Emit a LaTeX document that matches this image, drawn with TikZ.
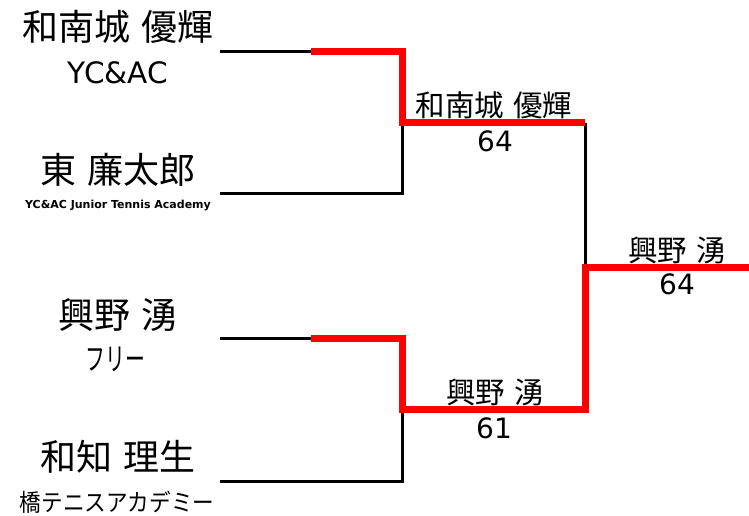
\documentclass[tikz,border=0pt]{standalone}
\usepackage{fontspec}
\newfontfamily\cjk[WordSpace=1.4]{Noto Sans CJK JP}
\newfontfamily\lat{DejaVu Sans}
\begin{document}
\begin{tikzpicture}[x=1pt,y=-1pt,
  blk/.style={line width=3pt,black,line join=miter},
  win/.style={line width=7pt,red,line join=miter},
  bigname/.style={inner sep=0pt,font=\cjk\fontsize{36}{40}\selectfont},
  midname/.style={inner sep=0pt,font=\cjk\fontsize{29.5}{32}\selectfont},
  club/.style={inner sep=0pt,font=\lat\fontsize{29.5}{32}\selectfont},
  clubjp/.style={inner sep=0pt,font=\cjk\fontsize{24}{26}\selectfont},
  score/.style={inner sep=0pt,font=\lat\fontsize{28}{30}\selectfont}
]
\useasboundingbox (0,0) rectangle (749,515);
% players
\node[bigname] (n1) at (118,27) {和南城 優輝};
\node[club] (c1) at (118,73) {YC\&AC};
\node[bigname] (n2) at (118,170) {東 廉太郎};
\node[inner sep=0pt,font=\lat\bfseries\fontsize{11}{13}\selectfont] (c2) at (118,206) {YC\&AC Junior Tennis Academy};
\node[bigname] (n3) at (118,315) {興野 湧};
\node[clubjp,font=\cjk\fontsize{31}{34}\selectfont] (c3) at (115.5,359.5) {\scalebox{0.64}[1]{フリー}};
\node[bigname] (n4) at (118,457) {和知 理生};
\node[clubjp] (c4) at (117,502) {\scalebox{0.9}[1]{橋テニスアカデミー}};
% bracket coordinates
\coordinate (a1) at (220,51.5);
\coordinate (a2) at (402.5,51.5);
\coordinate (ra) at (311,51.5);
\coordinate (b1) at (220,193);
\coordinate (b2) at (402.5,193);
\coordinate (m1) at (402.5,122.5);
\coordinate (m1r) at (585,122.5);
\coordinate (c1l) at (220,338.5);
\coordinate (c2r) at (402.5,338.5);
\coordinate (rc) at (311,338.5);
\coordinate (d1) at (220,481);
\coordinate (d2) at (402.5,481);
\coordinate (m2) at (402.5,409.5);
\coordinate (m2r) at (585,409.5);
\coordinate (f) at (585,267);
\coordinate (fr) at (749,267);
% black lines
\draw[blk] (a1) -- (a2);
\draw[blk] (b1) -- (b2) -- (m1);
\draw[blk] (c1l) -- (c2r);
\draw[blk] (d1) -- (d2) -- (m2);
\draw[blk] (m1r) -- (f);
% winner lines
\draw[win] (ra) -- (a2) -- (m1) -- (m1r);
\draw[win] (rc) -- (c2r) -- (m2) -- (m2r) -- (f) -- (fr);
% results
\node[midname] (w1) at (494,105) {和南城 優輝};
\node[score] (s1) at (495,141) {64};
\node[midname] (w2) at (495,392) {興野 湧};
\node[score] (s2) at (494,428) {61};
\node[midname] (w3) at (677,250) {興野 湧};
\node[score] (s3) at (677,284) {64};
\end{tikzpicture}
\end{document}
